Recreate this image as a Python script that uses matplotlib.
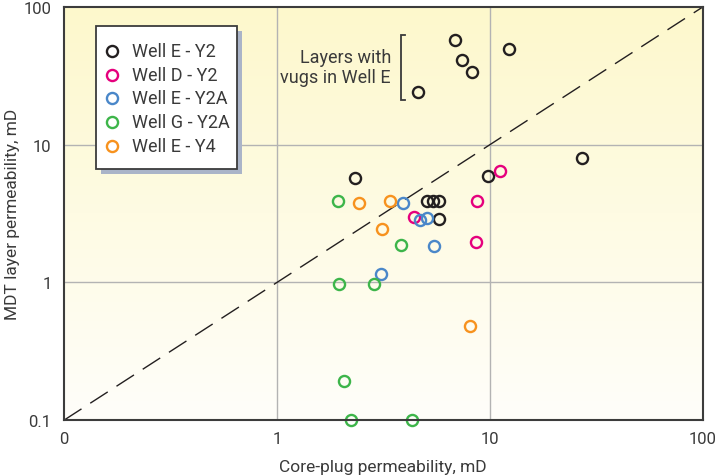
import numpy as np
import matplotlib
matplotlib.use("Agg")
import matplotlib.pyplot as plt
from matplotlib.ticker import FixedLocator, FixedFormatter, NullLocator
from matplotlib.lines import Line2D
from matplotlib.patches import Rectangle

plt.rcParams['font.family'] = ['Roboto', 'DejaVu Sans']

# Core-plug (x) vs MDT layer (y) permeability, mD
well_e_y2_x = [6.9, 12.3, 7.4, 8.3, 4.6, 27.0, 9.8, 2.34, 5.1, 5.4, 5.8, 5.8]
well_e_y2_y = [57.5, 50.0, 41.0, 34.0, 24.0, 8.0, 5.9, 5.7, 3.9, 3.9, 3.9, 2.9]

well_d_y2_x = [11.2, 8.7, 4.4, 8.6]
well_d_y2_y = [6.5, 3.9, 2.97, 1.97]

well_e_y2a_x = [3.9, 4.7, 5.1, 5.5, 3.1]
well_e_y2a_y = [3.8, 2.83, 2.93, 1.83, 1.15]

well_g_y2a_x = [1.93, 3.85, 1.95, 2.85, 2.06, 2.23, 4.33]
well_g_y2a_y = [3.9, 1.87, 0.97, 0.97, 0.193, 0.1, 0.1]

well_e_y4_x = [2.42, 3.4, 3.11, 8.05]
well_e_y4_y = [3.77, 3.9, 2.44, 0.48]

series_labels = ["Well E - Y2", "Well D - Y2", "Well E - Y2A", "Well G - Y2A", "Well E - Y4"]
series_colors = ["#231f20", "#e5007d", "#4a87c9", "#3db54a", "#f7921e"]

x_ticks = [0.1, 1, 10, 100]
x_tick_labels = ["0", "1", "10", "100"]
y_ticks = [0.1, 1, 10, 100]
y_tick_labels = ["0.1", "1", "10", "100"]

W, H = 724, 477
fig = plt.figure(figsize=(W / 100, H / 100), dpi=100)
ax = fig.add_axes([0.0884, 0.117, 0.882, 0.866])
ax.set_xscale("log")
ax.set_yscale("log")
ax.set_xlim(0.1, 100)
ax.set_ylim(0.1, 100)

# pale yellow-to-white background gradient
grad = np.linspace(0, 1, 256).reshape(-1, 1)
top = np.array([253, 248, 204]) / 255.0
bottom = np.array([255, 254, 250]) / 255.0
img = top[None, None, :] * (1 - grad[:, :, None]) + bottom[None, None, :] * grad[:, :, None]
ax.imshow(img, extent=[0, 1, 0, 1], transform=ax.transAxes, aspect="auto", zorder=0)
ax.set_facecolor("none")

# decade grid
for v in [1, 10]:
    ax.axvline(v, color="#b3b3b3", lw=1.0, zorder=1)
    ax.axhline(v, color="#b3b3b3", lw=1.0, zorder=1)

# 1:1 line
ax.plot([0.1, 100], [0.1, 100], color="#231f20", lw=1.0, dashes=(15, 7.5), zorder=2)

all_x = [well_e_y2_x, well_d_y2_x, well_e_y2a_x, well_g_y2a_x, well_e_y4_x]
all_y = [well_e_y2_y, well_d_y2_y, well_e_y2a_y, well_g_y2a_y, well_e_y4_y]
for xs, ys, c in zip(all_x, all_y, series_colors):
    ax.plot(xs, ys, linestyle="none", marker="o", markersize=8, markerfacecolor="none",
            markeredgecolor=c, markeredgewidth=1.7, clip_on=False, zorder=4)

ax.xaxis.set_major_locator(FixedLocator(x_ticks))
ax.xaxis.set_major_formatter(FixedFormatter(x_tick_labels))
ax.xaxis.set_minor_locator(NullLocator())
ax.yaxis.set_major_locator(FixedLocator(y_ticks))
ax.yaxis.set_major_formatter(FixedFormatter(y_tick_labels))
ax.yaxis.set_minor_locator(NullLocator())
ax.tick_params(axis="both", length=0, labelsize=12, colors="#3a3a3a")
ax.tick_params(axis="x", pad=8)
ax.tick_params(axis="y", pad=9)

for s in ax.spines.values():
    s.set_color("#3c3c3c")
    s.set_linewidth(1.5)
    s.set_zorder(5)

ax.set_xlabel("Core-plug permeability, mD", fontsize=12.5, color="#3a3a3a", labelpad=9)
ax.set_ylabel("MDT layer permeability, mD", fontsize=12.5, color="#3a3a3a")
ax.yaxis.set_label_coords(-0.069, 0.5)

# annotation with bracket
ax.text(0.512, 0.855, "Layers with\nvugs in Well E", transform=ax.transAxes, ha="right", va="center",
        fontsize=13, color="#3a3a3a", linespacing=1.15, zorder=6)
ax.plot([0.5345, 0.527, 0.527, 0.5345], [0.932, 0.932, 0.775, 0.775], transform=ax.transAxes,
        color="#3a3a3a", lw=1.3, solid_joinstyle="miter", zorder=6)


# legend panel, placed in figure pixels
def fx(px):
    return px / W


def fy(py):
    return 1 - py / H


box_l, box_t, box_r, box_b = 96, 27, 237, 170
shadow_off = 5
fig.add_artist(Rectangle((fx(box_l + shadow_off), fy(box_b + shadow_off)),
                         fx(box_r - box_l), (box_b - box_t) / H,
                         transform=fig.transFigure, facecolor="#aab4c8", edgecolor="none", zorder=10))
fig.add_artist(Rectangle((fx(box_l), fy(box_b)), fx(box_r - box_l), (box_b - box_t) / H,
                         transform=fig.transFigure, facecolor="white", edgecolor="#3c3c3c",
                         linewidth=1.3, zorder=11))
for i, (lab, c) in enumerate(zip(series_labels, series_colors)):
    yc = 52 + i * 23.7
    fig.add_artist(Line2D([fx(112)], [fy(yc)], transform=fig.transFigure, linestyle="none",
                          marker="o", markersize=8, markerfacecolor="none",
                          markeredgecolor=c, markeredgewidth=1.7, zorder=12))
    fig.text(fx(132), fy(yc), lab, ha="left", va="center", fontsize=13, color="#3a3a3a", zorder=12)

fig.savefig("out.png", dpi=100)
